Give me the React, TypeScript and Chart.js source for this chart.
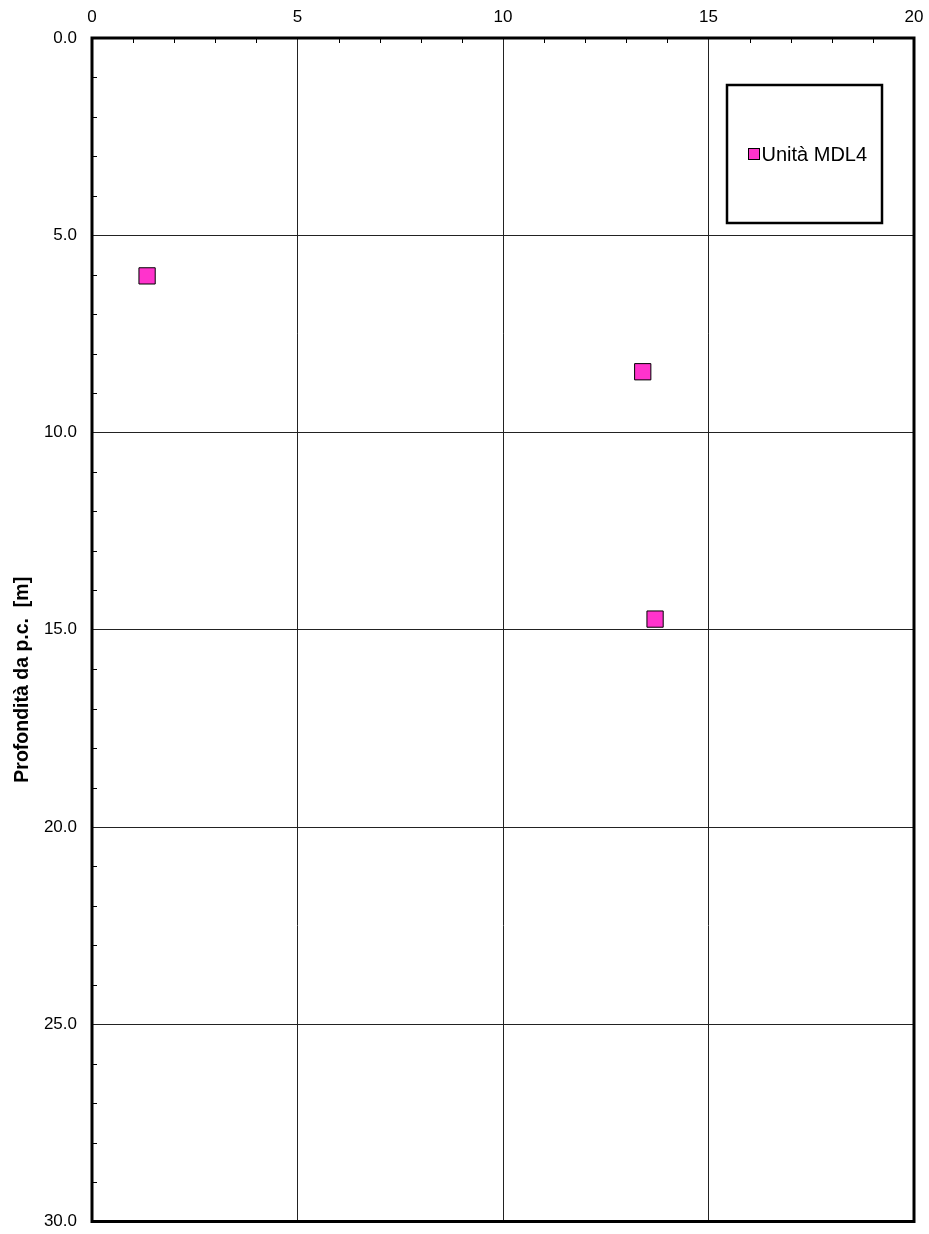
import React, { useEffect, useRef } from "react";
import { Chart, registerables } from "chart.js";

Chart.register(...registerables);

const seriesLabel = "Unità MDL4";
const valuesX = [1.34, 13.4, 13.7];
const depthsY = [6.03, 8.46, 14.73];
const xTicksMajor = [0, 5, 10, 15, 20];
const yTicksMajor = [0, 5, 10, 15, 20, 25, 30];
const yTitle = "Profondità da p.c.  [m]";

const FONT = "'Liberation Sans', Arial, sans-serif";
const MARKER = "#FF33CC";

const framePlugin = {
  id: "frame",
  afterDraw(chart: any) {
    const { ctx, chartArea: a, scales } = chart;
    const xs = scales.x;
    const ys = scales.y;
    ctx.save();
    // minor ticks inside
    ctx.strokeStyle = "#000";
    ctx.lineWidth = 1;
    for (let v = 0; v <= 20; v++) {
      if (v % 5 === 0) continue;
      const px = Math.round(xs.getPixelForValue(v)) + 0.5;
      ctx.beginPath();
      ctx.moveTo(px, a.top);
      ctx.lineTo(px, a.top + 5);
      ctx.stroke();
    }
    for (let v = 0; v <= 30; v++) {
      if (v % 5 === 0) continue;
      const py = Math.round(ys.getPixelForValue(v)) + 0.5;
      ctx.beginPath();
      ctx.moveTo(a.left, py);
      ctx.lineTo(a.left + 5, py);
      ctx.stroke();
    }
    // frame
    ctx.lineWidth = 3;
    ctx.strokeRect(a.left, a.top, a.right - a.left, a.bottom - a.top);
    // legend box
    ctx.lineWidth = 2.5;
    ctx.strokeRect(727, 85, 155, 138);
    const ds = chart.data.datasets[0];
    ctx.fillStyle = ds.backgroundColor;
    ctx.fillRect(748.5, 148.5, 11, 11);
    ctx.lineWidth = 1;
    ctx.strokeStyle = "#000";
    ctx.strokeRect(748.5, 148.5, 11, 11);
    ctx.fillStyle = "#000";
    ctx.font = `20px ${FONT}`;
    ctx.textAlign = "left";
    ctx.textBaseline = "middle";
    ctx.fillText(ds.label, 761.5, 155);
    // y title
    ctx.save();
    ctx.translate(23, (a.top + a.bottom) / 2 + 50);
    ctx.rotate(-Math.PI / 2);
    ctx.font = `bold 19.5px ${FONT}`;
    ctx.textAlign = "center";
    ctx.textBaseline = "middle";
    ctx.fillText(yTitle, 0, 0);
    ctx.restore();
    ctx.restore();
  },
};

export default function App() {
  const ref = useRef<HTMLCanvasElement | null>(null);
  useEffect(() => {
    document.body.style.margin = "0";
    const canvas = ref.current!;
    const chart = new Chart(canvas, {
      type: "scatter",
      data: {
        datasets: [
          {
            label: seriesLabel,
            data: valuesX.map((x, i) => ({ x, y: depthsY[i] })),
            backgroundColor: MARKER,
            borderColor: "#000",
            borderWidth: 1,
            pointStyle: "rect",
            pointRadius: 11.5,
            pointHoverRadius: 11.5,
          },
        ],
      },
      options: {
        animation: false,
        responsive: false,
        maintainAspectRatio: false,
        events: [],
        layout: { padding: { left: 0, top: 0, right: 15, bottom: 11 } },
        plugins: { legend: { display: false }, tooltip: { enabled: false } },
        scales: {
          x: {
            type: "linear",
            position: "top",
            min: 0,
            max: 20,
            afterFit: (s: any) => {
              s.height = 38;
            },
            afterBuildTicks: (s: any) => {
              s.ticks = xTicksMajor.map((v) => ({ value: v }));
            },
            grid: {
              color: "#222",
              lineWidth: 1,
              drawTicks: true,
              tickLength: 10,
              tickColor: "rgba(0,0,0,0)",
            },
            border: { display: false },
            ticks: {
              padding: 0,
              color: "#000",
              font: { family: FONT, size: 17 },
              maxRotation: 0,
            },
          },
          y: {
            type: "linear",
            position: "left",
            reverse: true,
            min: 0,
            max: 30,
            afterFit: (s: any) => {
              s.width = 92;
            },
            afterBuildTicks: (s: any) => {
              s.ticks = yTicksMajor.map((v) => ({ value: v }));
            },
            grid: {
              color: "#222",
              lineWidth: 1,
              drawTicks: true,
              tickLength: 15,
              tickColor: "rgba(0,0,0,0)",
            },
            border: { display: false },
            ticks: {
              padding: 0,
              color: "#000",
              font: { family: FONT, size: 17 },
              callback: (v: any) => Number(v).toFixed(1),
            },
          },
        },
      },
      plugins: [framePlugin],
    });
    return () => chart.destroy();
  }, []);
  return (
    <div style={{ width: 929, height: 1234 }}>
      <canvas ref={ref} width={929} height={1234} style={{ display: "block" }} />
    </div>
  );
}
